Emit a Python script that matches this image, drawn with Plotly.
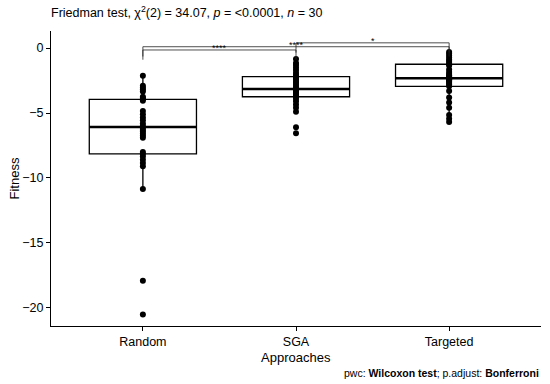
import numpy as np
import plotly.graph_objects as go

categories = ["Random", "SGA", "Targeted"]

random_vals = [-2.13, -2.9, -3.05, -3.2, -3.35, -3.75, -3.85, -3.95, -4.05, -4.85,
               -5.1, -5.35, -5.55, -5.8, -6.0, -6.15, -6.3, -6.45, -6.6, -6.75,
               -6.9, -8.0, -8.15, -8.35, -8.6, -8.85, -9.1, -10.85, -17.9, -20.5]
sga_vals = [-0.85, -1.15, -1.3, -1.5, -1.7, -1.9, -2.05, -2.2, -2.28, -2.4,
            -2.55, -2.7, -2.85, -3.0, -3.12, -3.18, -3.2, -3.3, -3.35, -3.45,
            -3.55, -3.65, -3.75, -3.9, -4.1, -4.35, -4.6, -4.9, -6.1, -6.55]
targeted_vals = [-0.3, -0.45, -0.6, -0.75, -0.9, -1.0, -1.15, -1.25, -1.35, -1.65,
                 -1.85, -2.0, -2.1, -2.2, -2.3, -2.35, -2.4, -2.45, -2.5, -2.6,
                 -2.7, -2.8, -2.95, -3.3, -3.8, -4.2, -4.6, -5.15, -5.45, -5.7]
series = [random_vals, sga_vals, targeted_vals]

y_ticks = [0, -5, -10, -15, -20]

# pairwise comparisons (group index pairs), bracket heights and labels
bracket_pairs = [(1, 2), (1, 3), (2, 3)]
bracket_y = [-0.15, 0.1, 0.4]
bracket_labels = ["****", "****", "*"]
tip = 0.75

FONT = "Liberation Sans, Arial, sans-serif"
fig = go.Figure()

for i, vals in enumerate(series, start=1):
    fig.add_trace(go.Box(
        x=[i] * len(vals), y=vals, width=0.7,
        line=dict(color="black", width=1.3), fillcolor="white",
        whiskerwidth=0, boxpoints="outliers", quartilemethod="linear",
        marker=dict(opacity=0, size=1), showlegend=False, hoverinfo="skip"))
    med = float(np.median(vals))
    fig.add_trace(go.Scatter(
        x=[i - 0.35, i + 0.35], y=[med, med], mode="lines",
        line=dict(color="black", width=2.6), showlegend=False, hoverinfo="skip"))

for i, vals in enumerate(series, start=1):
    fig.add_trace(go.Scatter(
        x=[i] * len(vals), y=vals, mode="markers",
        marker=dict(color="black", size=6), showlegend=False))

for (a, b), yb, lab in zip(bracket_pairs, bracket_y, bracket_labels):
    fig.add_trace(go.Scatter(
        x=[a, a, b, b], y=[yb - tip, yb, yb, yb - tip], mode="lines",
        line=dict(color="#222222", width=0.8), showlegend=False, hoverinfo="skip"))
    fig.add_annotation(x=(a + b) / 2, y=yb, text=lab, showarrow=False,
                       yanchor="bottom", yshift=-5, font=dict(size=9, color="black", family=FONT))

fig.add_annotation(xref="paper", yref="paper", x=0, y=1, xanchor="left", yanchor="middle",
                   yshift=19, xshift=-2, showarrow=False,
                   text="Friedman test, χ<sup>2</sup>(2) = 34.07, <i>p</i> = &lt;0.0001, <i>n</i> = 30",
                   font=dict(size=12.5, color="black", family=FONT))
fig.add_annotation(xref="paper", yref="paper", x=1, y=0, xanchor="right", yanchor="middle",
                   yshift=-47, showarrow=False,
                   text="pwc: <b>Wilcoxon test</b>; p.adjust: <b>Bonferroni</b>",
                   font=dict(size=10.5, color="black", family=FONT))
# axis titles
fig.add_annotation(xref="paper", yref="paper", x=0.5, y=0, xanchor="center", yanchor="middle",
                   yshift=-31, showarrow=False, text="Approaches",
                   font=dict(size=13, color="black", family=FONT))
fig.add_annotation(xref="paper", yref="paper", x=0, y=0.5, xanchor="center", yanchor="middle",
                   xshift=-37, textangle=-90, showarrow=False, text="Fitness",
                   font=dict(size=13, color="black", family=FONT))

fig.update_layout(
    width=550, height=384,
    margin=dict(l=51, r=9, t=31, b=58),
    paper_bgcolor="white", plot_bgcolor="white",
    font=dict(family=FONT, color="black"),
    xaxis=dict(range=[0.4, 3.6], tickvals=[1, 2, 3], ticktext=categories,
               showline=True, linecolor="black", linewidth=1.1,
               ticks="outside", ticklen=4, tickcolor="black",
               showgrid=False, zeroline=False, automargin=False,
               tickfont=dict(size=12.5, color="black")),
    yaxis=dict(range=[-21.39, 1.31], tickvals=y_ticks,
               showline=True, linecolor="black", linewidth=1.1,
               ticks="outside", ticklen=4, tickcolor="black",
               showgrid=False, zeroline=False, automargin=False,
               tickfont=dict(size=12.5, color="black")),
)

fig.write_html("out.html", config={"displayModeBar": False},
               post_script="document.body.style.margin='0';")
